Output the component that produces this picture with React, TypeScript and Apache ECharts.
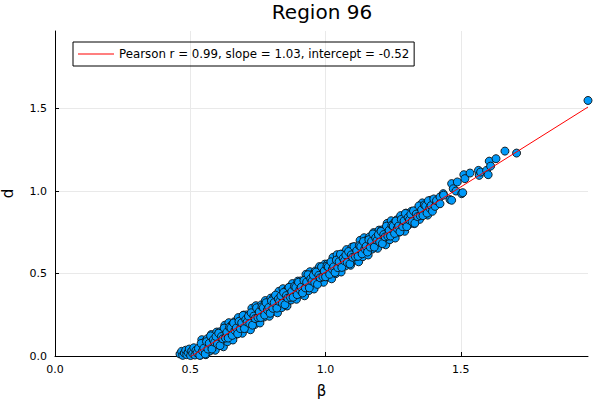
import React, { useEffect, useRef } from 'react';
import * as echarts from 'echarts';

// fit line parameters, as printed in the legend
const slope = 1.03;
const intercept = -0.52;
const legendLabel = 'Pearson r = 0.99, slope = 1.03, intercept = -0.52';
const tickValues = [0, 0.5, 1.0, 1.5];
const axisMax = 1.97;

// β near the origin, d close to zero
const lowBand: [number, number][] = [
  [0.462, 0.012], [0.468, 0.028], [0.472, 0.004], [0.478, 0.018], [0.483, 0.035],
  [0.487, 0.008], [0.492, 0.022], [0.496, 0.042], [0.501, 0.003], [0.505, 0.03],
  [0.509, 0.015], [0.513, 0.05], [0.517, 0.006], [0.521, 0.034], [0.525, 0.019],
  [0.53, 0.046], [0.535, 0.004], [0.54, 0.076], [0.545, 0.031], [0.55, 0.047],
  [0.555, 0.012], [0.56, 0.087], [0.565, 0.042], [0.57, 0.077], [0.575, 0.122],
  [0.58, 0.042], [0.585, 0.098], [0.59, 0.083], [0.595, 0.118], [0.6, 0.073],
  [0.605, 0.138], [0.61, 0.063], [0.615, 0.118], [0.62, 0.104], [0.625, 0.169],
  [0.63, 0.109], [0.635, 0.144], [0.64, 0.109], [0.645, 0.174], [0.65, 0.17],
  [0.655, 0.125], [0.66, 0.2], [0.665, 0.155], [0.67, 0.17], [0.675, 0.135],
  [0.68, 0.21], [0.685, 0.166], [0.69, 0.201], [0.695, 0.246], [0.7, 0.166],
  [0.705, 0.221], [0.71, 0.206], [0.715, 0.241], [0.72, 0.197], [0.725, 0.262],
  [0.73, 0.187], [0.735, 0.242], [0.74, 0.227], [0.745, 0.292], [0.75, 0.233],
  [0.755, 0.268], [0.76, 0.233], [0.765, 0.298], [0.77, 0.293], [0.775, 0.248],
  [0.78, 0.323], [0.785, 0.279], [0.79, 0.294], [0.795, 0.259], [0.8, 0.334],
];

const midBand: [number, number][] = [
  [0.805, 0.289], [0.81, 0.324], [0.815, 0.369], [0.82, 0.29], [0.825, 0.345],
  [0.83, 0.33], [0.835, 0.365], [0.84, 0.32], [0.845, 0.385], [0.85, 0.311],
  [0.855, 0.366], [0.86, 0.351], [0.865, 0.416], [0.87, 0.356], [0.875, 0.391],
  [0.88, 0.356], [0.885, 0.422], [0.89, 0.417], [0.895, 0.372], [0.9, 0.447],
  [0.905, 0.402], [0.91, 0.417], [0.915, 0.382], [0.92, 0.458], [0.925, 0.413],
  [0.93, 0.448], [0.935, 0.493], [0.94, 0.413], [0.945, 0.468], [0.95, 0.454],
  [0.955, 0.489], [0.96, 0.444], [0.965, 0.509], [0.97, 0.434], [0.975, 0.489],
  [0.98, 0.474], [0.985, 0.54], [0.99, 0.48], [0.995, 0.515], [1.0, 0.48],
  [1.005, 0.545], [1.01, 0.54], [1.015, 0.495], [1.02, 0.571], [1.025, 0.526],
  [1.03, 0.541], [1.035, 0.506], [1.04, 0.581], [1.045, 0.536], [1.05, 0.572],
  [1.055, 0.617], [1.06, 0.537], [1.065, 0.592], [1.07, 0.577], [1.075, 0.612],
  [1.08, 0.567], [1.085, 0.633], [1.09, 0.558], [1.095, 0.613], [1.1, 0.598],
  [1.105, 0.663], [1.11, 0.603], [1.115, 0.638], [1.12, 0.604], [1.125, 0.669],
  [1.13, 0.664], [1.135, 0.619], [1.14, 0.694], [1.145, 0.649], [1.15, 0.665],
];

const highBand: [number, number][] = [
  [1.155, 0.63], [1.16, 0.705], [1.165, 0.66], [1.17, 0.695], [1.175, 0.74],
  [1.18, 0.66], [1.185, 0.716], [1.19, 0.701], [1.195, 0.736], [1.2, 0.691],
  [1.205, 0.756], [1.21, 0.681], [1.215, 0.736], [1.22, 0.722], [1.225, 0.787],
  [1.23, 0.727], [1.235, 0.762], [1.24, 0.727], [1.245, 0.792], [1.25, 0.788],
  [1.255, 0.743], [1.26, 0.818], [1.265, 0.773], [1.27, 0.788], [1.275, 0.753],
  [1.28, 0.828], [1.285, 0.784], [1.29, 0.819], [1.295, 0.864], [1.3, 0.784],
  [1.305, 0.839], [1.31, 0.824], [1.315, 0.859], [1.32, 0.815], [1.325, 0.88],
  [1.33, 0.805], [1.335, 0.86], [1.34, 0.845], [1.345, 0.91], [1.35, 0.851],
  [1.355, 0.886], [1.36, 0.851], [1.365, 0.916], [1.37, 0.911], [1.375, 0.866],
  [1.38, 0.941], [1.385, 0.897], [1.39, 0.912], [1.395, 0.877], [1.4, 0.952],
  [1.405, 0.907], [1.41, 0.942],
];

// second layer of the band, between the points above
const lowBand2: [number, number][] = [
  [0.5375, 0.005], [0.5425, 0.099], [0.5475, 0.024], [0.5525, 0.084], [0.5575, 0.008],
  [0.5625, 0.104], [0.5675, 0.065], [0.5725, 0.03], [0.5775, 0.13], [0.5825, 0.07],
  [0.5875, 0.105], [0.5925, 0.035], [0.5975, 0.145], [0.6025, 0.071], [0.6075, 0.146],
  [0.6125, 0.066], [0.6175, 0.141], [0.6225, 0.056], [0.6275, 0.186], [0.6325, 0.117],
  [0.6375, 0.087], [0.6425, 0.202], [0.6475, 0.127], [0.6525, 0.187], [0.6575, 0.097],
  [0.6625, 0.207], [0.6675, 0.168], [0.6725, 0.133], [0.6775, 0.233], [0.6825, 0.173],
  [0.6875, 0.208], [0.6925, 0.138], [0.6975, 0.248], [0.7025, 0.174], [0.7075, 0.249],
  [0.7125, 0.169], [0.7175, 0.244], [0.7225, 0.159], [0.7275, 0.289], [0.7325, 0.22],
  [0.7375, 0.19], [0.7425, 0.305], [0.7475, 0.23], [0.7525, 0.29], [0.7575, 0.2],
  [0.7625, 0.31], [0.7675, 0.271], [0.7725, 0.236], [0.7775, 0.336], [0.7825, 0.276],
  [0.7875, 0.311], [0.7925, 0.241], [0.7975, 0.351], [0.8025, 0.277], [0.8075, 0.352],
  [0.8125, 0.272], [0.8175, 0.347], [0.8225, 0.262], [0.8275, 0.392], [0.8325, 0.323],
  [0.8375, 0.293], [0.8425, 0.408], [0.8475, 0.333], [0.8525, 0.393], [0.8575, 0.303],
  [0.8625, 0.413], [0.8675, 0.374], [0.8725, 0.339], [0.8775, 0.439], [0.8825, 0.379],
  [0.8875, 0.414], [0.8925, 0.344], [0.8975, 0.454], [0.9025, 0.38], [0.9075, 0.455],
  [0.9125, 0.375], [0.9175, 0.45], [0.9225, 0.365], [0.9275, 0.495], [0.9325, 0.426],
];

const highBand2: [number, number][] = [
  [0.9375, 0.396], [0.9425, 0.511], [0.9475, 0.436], [0.9525, 0.496], [0.9575, 0.406],
  [0.9625, 0.516], [0.9675, 0.477], [0.9725, 0.442], [0.9775, 0.542], [0.9825, 0.482],
  [0.9875, 0.517], [0.9925, 0.447], [0.9975, 0.557], [1.0025, 0.483], [1.0075, 0.558],
  [1.0125, 0.478], [1.0175, 0.553], [1.0225, 0.468], [1.0275, 0.598], [1.0325, 0.529],
  [1.0375, 0.499], [1.0425, 0.614], [1.0475, 0.539], [1.0525, 0.599], [1.0575, 0.509],
  [1.0625, 0.619], [1.0675, 0.58], [1.0725, 0.545], [1.0775, 0.645], [1.0825, 0.585],
  [1.0875, 0.62], [1.0925, 0.55], [1.0975, 0.66], [1.1025, 0.586], [1.1075, 0.661],
  [1.1125, 0.581], [1.1175, 0.656], [1.1225, 0.571], [1.1275, 0.701], [1.1325, 0.632],
  [1.1375, 0.602], [1.1425, 0.717], [1.1475, 0.642], [1.1525, 0.702], [1.1575, 0.612],
  [1.1625, 0.722], [1.1675, 0.683], [1.1725, 0.648], [1.1775, 0.748], [1.1825, 0.688],
  [1.1875, 0.723], [1.1925, 0.653], [1.1975, 0.763], [1.2025, 0.689], [1.2075, 0.764],
  [1.2125, 0.684], [1.2175, 0.759], [1.2225, 0.674], [1.2275, 0.804], [1.2325, 0.735],
  [1.2375, 0.705], [1.2425, 0.82], [1.2475, 0.745], [1.2525, 0.805], [1.2575, 0.715],
  [1.2625, 0.825], [1.2675, 0.786], [1.2725, 0.751], [1.2775, 0.851], [1.2825, 0.791],
  [1.2875, 0.826], [1.2925, 0.756], [1.2975, 0.866], [1.3075, 0.797], [1.3175, 0.877],
  [1.3275, 0.802], [1.3375, 0.883], [1.3475, 0.828], [1.3575, 0.928], [1.3675, 0.874],
  [1.3775, 0.854], [1.3875, 0.944],
];

// sparse points past β = 1.4
const tail: [number, number][] = [
  [1.423, 0.964], [1.423, 0.923], [1.435, 0.984], [1.436, 0.975], [1.46, 0.948],
  [1.466, 0.944], [1.466, 1.045], [1.472, 1.014], [1.482, 1.0], [1.487, 1.055],
  [1.503, 0.984], [1.507, 0.99], [1.511, 1.099], [1.515, 1.075], [1.534, 1.109],
  [1.565, 1.125], [1.568, 1.095], [1.573, 1.115], [1.595, 1.125], [1.601, 1.099],
  [1.605, 1.181], [1.61, 1.151], [1.63, 1.196], [1.663, 1.242], [1.706, 1.23],
  [1.97, 1.549],
];

const points = [...lowBand2, ...lowBand, ...highBand2, ...midBand, ...highBand, ...tail];
const betaMin = Math.min(...points.map(p => p[0]));
const betaMax = Math.max(...points.map(p => p[0]));
const fitLine = [betaMin, betaMax].map(b => [b, slope * b + intercept]);

const FONT = 'DejaVu Sans';

const App: React.FC = () => {
  const chartRef = useRef<HTMLDivElement>(null);

  useEffect(() => {
    document.body.style.margin = '0';
    if (!chartRef.current) return;
    const chart = echarts.init(chartRef.current, null, { renderer: 'svg' });

    const axisCommon = {
      type: 'value',
      min: 0,
      max: axisMax,
      interval: 0.5,
      nameLocation: 'middle',
      nameTextStyle: { fontFamily: FONT, fontSize: 15, color: '#000' },
      axisLine: { show: true, lineStyle: { color: '#000', width: 1 } },
      axisTick: { show: true, inside: true, length: 4, lineStyle: { color: '#000' }, customValues: tickValues },
      axisLabel: {
        fontFamily: FONT,
        fontSize: 11,
        color: '#000',
        customValues: tickValues,
        formatter: (v: number) => v.toFixed(1),
      },
      splitLine: { show: true, lineStyle: { color: '#e9e9e9', width: 1 } },
    };

    chart.setOption({
      animation: false,
      graphic: [
        {
          type: 'text',
          x: 322,
          y: 2,
          style: {
            text: 'Region 96',
            fontFamily: FONT,
            fontSize: 20,
            fill: '#000',
            align: 'center',
            verticalAlign: 'top',
          },
        },
      ],
      legend: {
        data: [{ name: legendLabel, icon: 'rect' }],
        left: 73,
        top: 42,
        orient: 'vertical',
        borderColor: '#000',
        borderWidth: 1,
        borderRadius: 0,
        padding: [5, 5, 5, 5],
        itemWidth: 36,
        itemHeight: 1,
        itemGap: 0,
        textStyle: { fontFamily: FONT, fontSize: 11.8, color: '#000', lineHeight: 14 },
      },
      grid: { left: 55, right: 12, top: 31, bottom: 44, outerBoundsMode: 'none', containLabel: false },
      xAxis: { ...axisCommon, name: 'β', nameGap: 27 },
      yAxis: { ...axisCommon, name: 'd', nameGap: 40 },
      series: [
        {
          type: 'scatter',
          data: points,
          symbolSize: 8,
          clip: true,
          itemStyle: { color: '#009afa', borderColor: '#111', borderWidth: 0.9, opacity: 1 },
          z: 2,
        },
        {
          name: legendLabel,
          type: 'line',
          data: fitLine,
          symbol: 'none',
          clip: true,
          lineStyle: { color: '#ff0000', width: 1 },
          itemStyle: { color: '#ff0000' },
          z: 3,
        },
      ],
    });

    return () => {
      chart.dispose();
    };
  }, []);

  return <div ref={chartRef} style={{ width: 600, height: 400 }} />;
};

export default App;
